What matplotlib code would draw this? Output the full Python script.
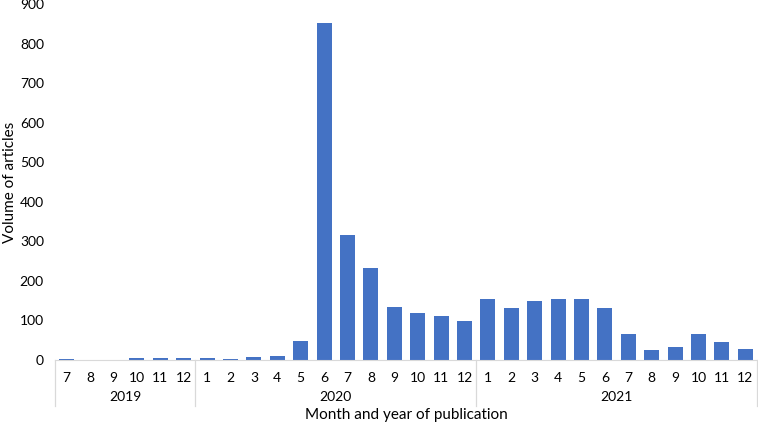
import matplotlib.pyplot as plt
import numpy as np

plt.rcParams['font.family'] = ['Lato', 'DejaVu Sans']

months = [7, 8, 9, 10, 11, 12,
          1, 2, 3, 4, 5, 6, 7, 8, 9, 10, 11, 12,
          1, 2, 3, 4, 5, 6, 7, 8, 9, 10, 11, 12]
years = ['2019', '2020', '2021']
year_counts = [6, 12, 12]
volume = [3, 1, 1, 5, 5, 4,
          4, 3, 7, 11, 48, 852, 315, 233, 134, 119, 110, 98,
          154, 132, 150, 153, 154, 131, 66, 25, 34, 66, 45, 27]

fig = plt.figure(figsize=(7.58, 4.25), dpi=100)
ax = fig.add_axes([55 / 758, 65 / 425, 702 / 758, 356 / 425])

x = np.arange(len(volume))
ax.bar(x, volume, width=0.64, color='#4472C4')
ax.set_xlim(-0.5, len(volume) - 0.5)
ax.set_ylim(0, 900)
ax.set_yticks(range(0, 901, 100))
ax.tick_params(axis='y', length=0, labelsize=10, pad=8)
ax.tick_params(axis='x', length=0, labelsize=10, pad=9)
ax.set_xticks(x)
ax.set_xticklabels([str(m) for m in months])

for s in ['top', 'right', 'left']:
    ax.spines[s].set_visible(False)
ax.spines['bottom'].set_color('#d9d9d9')

# year groups under the month labels
trans = ax.get_xaxis_transform()
start = 0
edges = [-0.5]
for yr, n in zip(years, year_counts):
    ax.text(start + (n - 1) / 2, -0.105, yr, transform=trans,
            ha='center', va='center', fontsize=10)
    start += n
    edges.append(start - 0.5)
for e in edges:
    ax.plot([e, e], [0, -0.13], transform=trans, color='#d9d9d9',
            lw=0.9, clip_on=False)

ax.text(0.5, -0.155, 'Month and year of publication', transform=ax.transAxes,
        ha='center', va='center', fontsize=11)
ax.set_ylabel('Volume of articles', fontsize=11, labelpad=2)

fig.savefig('out.png', dpi=100)
